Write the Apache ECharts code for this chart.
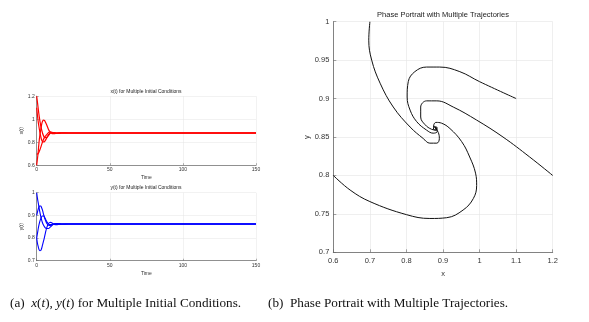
<!DOCTYPE html>
<html>
<head>
<meta charset="utf-8">
<script src="https://cdn.jsdelivr.net/npm/echarts@6/dist/echarts.min.js"></script>
<style>
  html, body { margin: 0; padding: 0; background: #fff; }
  #chart { width: 589px; height: 322px; }
</style>
</head>
<body>
<div id="chart"></div>
<script>
// 数据：四条轨迹，每条有时间、x、y
//---------------------------------

// 轨迹 A，初值 (0.6, 0.8)
var tA = [0, 0.4, 0.9, 1.6, 2.2, 2.8, 3.4, 4.0, 4.7, 5.3, 6.0, 6.8, 7.8, 8.7, 9.6, 10.5, 12, 14, 17, 22, 150];
var xA = [0.6, 0.646, 0.7, 0.8, 0.864, 0.91, 0.955, 0.983, 0.992, 0.989, 0.973, 0.951, 0.919, 0.896, 0.881, 0.875, 0.874, 0.882, 0.88, 0.88, 0.88];
var yA = [0.8, 0.781, 0.766, 0.749, 0.744, 0.745, 0.755, 0.77, 0.787, 0.803, 0.824, 0.844, 0.861, 0.868, 0.869, 0.866, 0.86, 0.859, 0.862, 0.862, 0.862];

// 轨迹 B，初值 (0.7, 1.0)
var tB = [0, 0.5, 1.2, 2.0, 3.0, 4.2, 5.5, 6.7, 8.0, 9.2, 10.5, 12, 14, 17, 22, 150];
var xB = [0.7, 0.697, 0.705, 0.728, 0.764, 0.81, 0.846, 0.864, 0.883, 0.89, 0.887, 0.877, 0.876, 0.881, 0.88, 0.88];
var yB = [1.0, 0.976, 0.95, 0.92, 0.889, 0.863, 0.848, 0.842, 0.842, 0.848, 0.856, 0.863, 0.864, 0.861, 0.862, 0.862];

// 轨迹 C，初值 (1.1, 0.9)
var tC = [0, 0.8, 1.4, 2.1, 2.7, 3.3, 4.0, 4.8, 5.6, 6.5, 7.6, 8.6, 10, 12, 14, 17, 22, 150];
var xC = [1.1, 1.0, 0.946, 0.891, 0.855, 0.823, 0.805, 0.802, 0.81, 0.828, 0.855, 0.873, 0.884, 0.883, 0.878, 0.88, 0.88, 0.88];
var yC = [0.9, 0.922, 0.935, 0.941, 0.941, 0.935, 0.922, 0.902, 0.885, 0.87, 0.859, 0.855, 0.857, 0.863, 0.863, 0.862, 0.862, 0.862];

// 轨迹 D，初值 (1.2, 0.8)
var tD = [0, 0.6, 1.3, 2.1, 3.0, 3.9, 4.7, 5.6, 6.6, 7.6, 8.7, 10, 12, 14, 17, 22, 150];
var xD = [1.2, 1.137, 1.064, 0.992, 0.928, 0.883, 0.855, 0.839, 0.839, 0.851, 0.869, 0.882, 0.882, 0.878, 0.88, 0.88, 0.88];
var yD = [0.8, 0.824, 0.85, 0.872, 0.889, 0.897, 0.897, 0.889, 0.876, 0.866, 0.86, 0.859, 0.862, 0.863, 0.862, 0.862, 0.862];

var trajT = [tA, tB, tC, tD];
var trajX = [xA, xB, xC, xD];
var trajY = [yA, yB, yC, yD];

// 标题和说明文字
var titleX = 'x(t) for Multiple Initial Conditions';
var titleY = 'y(t) for Multiple Initial Conditions';
var titlePhase = 'Phase Portrait with Multiple Trajectories';

// 拼成 [a, b] 点对
function zip(a, b) {
  var out = [];
  for (var i = 0; i < a.length; i++) {
    out.push([a[i], b[i]]);
  }
  return out;
}

var gridColor = '#e4e4e4';
var axisColor = '#666';
var textColor = '#333';

// 小图坐标轴的公共样式
function smallXAxis(gridIndex) {
  return {
    type: 'value', gridIndex: gridIndex, min: 0, max: 150, interval: 50,
    name: 'Time', nameLocation: 'middle', nameGap: 10,
    nameTextStyle: { fontSize: 5, color: textColor, fontFamily: 'Liberation Sans' },
    axisLine: { lineStyle: { color: axisColor, width: 0.7 } },
    axisTick: { inside: true, length: 2, lineStyle: { color: axisColor, width: 0.5 } },
    axisLabel: { fontSize: 5, color: textColor, margin: 2, fontFamily: 'Liberation Sans' },
    splitLine: { show: true, lineStyle: { color: gridColor, width: 0.5 } }
  };
}
function smallYAxis(gridIndex, name, min, max, interval) {
  return {
    type: 'value', gridIndex: gridIndex, min: min, max: max, interval: interval,
    name: name, nameLocation: 'middle', nameGap: 13,
    nameTextStyle: { fontSize: 5, color: textColor, fontFamily: 'Liberation Sans' },
    axisLine: { show: true, lineStyle: { color: axisColor, width: 0.7 } },
    axisTick: { show: true, inside: true, length: 2, lineStyle: { color: axisColor, width: 0.5 } },
    axisLabel: { fontSize: 5, color: textColor, margin: 2, fontFamily: 'Liberation Sans' },
    splitLine: { show: true, lineStyle: { color: gridColor, width: 0.5 } }
  };
}

var series = [];
for (var k = 0; k < 4; k++) {
  series.push({
    type: 'line', xAxisIndex: 0, yAxisIndex: 0, smooth: 0.4, symbol: 'none',
    lineStyle: { color: '#ff0000', width: 1.2 },
    data: zip(trajT[k], trajX[k])
  });
  series.push({
    type: 'line', xAxisIndex: 1, yAxisIndex: 1, smooth: 0.4, symbol: 'none',
    lineStyle: { color: '#0000ff', width: 1.1 },
    data: zip(trajT[k], trajY[k])
  });
  series.push({
    type: 'line', xAxisIndex: 2, yAxisIndex: 2, smooth: 0.4, symbol: 'none',
    lineStyle: { color: '#111', width: 1 },
    data: zip(trajX[k], trajY[k])
  });
}

var myChart = echarts.init(document.getElementById('chart'), null, { renderer: 'canvas' });
var option = {
  backgroundColor: '#fff',
  animation: false,
  title: [
    { text: titleX, left: 146, top: 89.5, textAlign: 'center', padding: 0,
      textStyle: { fontSize: 5, fontWeight: 'normal', color: '#222', fontFamily: 'Liberation Sans' } },
    { text: titleY, left: 146, top: 185.5, textAlign: 'center', padding: 0,
      textStyle: { fontSize: 5, fontWeight: 'normal', color: '#222', fontFamily: 'Liberation Sans' } },
    { text: titlePhase, left: 443, top: 11, textAlign: 'center', padding: 0,
      textStyle: { fontSize: 7.5, fontWeight: 'normal', color: '#222', fontFamily: 'Liberation Sans' } }
  ],
  grid: [
    { left: 36.7, top: 96.2, width: 219.3, height: 69 },
    { left: 36.7, top: 192.7, width: 219.3, height: 68 },
    { left: 333.3, top: 21.7, width: 219.4, height: 230.6 }
  ],
  xAxis: [
    smallXAxis(0),
    smallXAxis(1),
    {
      type: 'value', gridIndex: 2, min: 0.6, max: 1.2, interval: 0.1,
      name: 'x', nameLocation: 'middle', nameGap: 17,
      nameTextStyle: { fontSize: 7.5, color: textColor, fontFamily: 'Liberation Sans' },
      axisLine: { lineStyle: { color: axisColor, width: 0.8 } },
      axisTick: { inside: true, length: 3, lineStyle: { color: axisColor, width: 0.6 } },
      axisLabel: { fontSize: 7.5, color: textColor, margin: 5, fontFamily: 'Liberation Sans' },
      splitLine: { show: true, lineStyle: { color: gridColor, width: 0.6 } }
    }
  ],
  yAxis: [
    smallYAxis(0, 'x(t)', 0.6, 1.2, 0.2),
    smallYAxis(1, 'y(t)', 0.7, 1.0, 0.1),
    {
      type: 'value', gridIndex: 2, min: 0.7, max: 1.0, interval: 0.05,
      name: 'y', nameLocation: 'middle', nameGap: 21,
      nameTextStyle: { fontSize: 7.5, color: textColor, fontFamily: 'Liberation Sans' },
      axisLine: { show: true, lineStyle: { color: axisColor, width: 0.8 } },
      axisTick: { show: true, inside: true, length: 3, lineStyle: { color: axisColor, width: 0.6 } },
      axisLabel: { fontSize: 7.5, color: textColor, margin: 4, fontFamily: 'Liberation Sans' },
      splitLine: { show: true, lineStyle: { color: gridColor, width: 0.6 } }
    }
  ],
  graphic: [
    {
      type: 'text', left: 10, top: 297.5,
      style: {
        text: '(a)  {i|x}({i|t}), {i|y}({i|t}) for Multiple Initial Conditions.',
        font: '13.2px "Liberation Serif"', fill: '#111',
        rich: { i: { fontStyle: 'italic', fontFamily: 'Liberation Serif', fontSize: 13.2 } }
      }
    },
    {
      type: 'text', left: 268, top: 297.5,
      style: {
        text: '(b)  Phase Portrait with Multiple Trajectories.',
        font: '13.2px "Liberation Serif"', fill: '#111'
      }
    }
  ],
  series: series
};
myChart.setOption(option);
</script>
</body>
</html>
